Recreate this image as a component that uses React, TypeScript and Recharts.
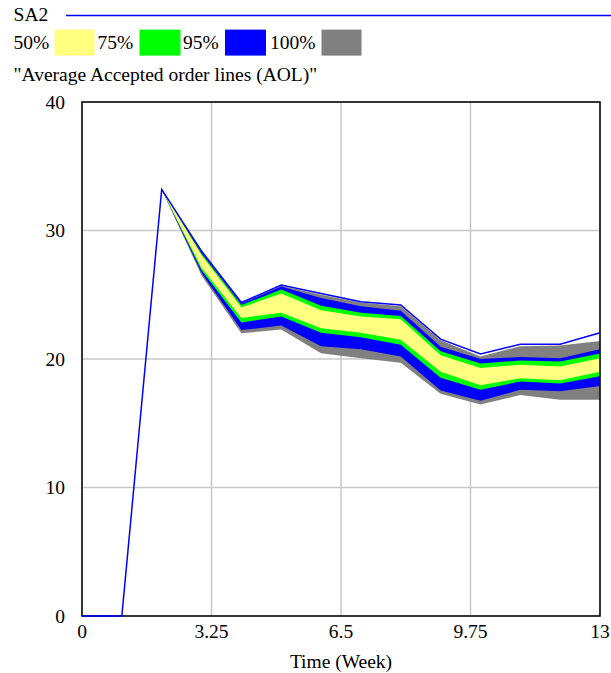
import { ComposedChart, Area, Line, XAxis, YAxis, CartesianGrid, ReferenceArea } from 'recharts'

const weeks = [0, 1, 2, 3, 4, 5, 6, 7, 8, 9, 10, 11, 12, 13]
const sa2 = [0, 0, 33.2, 28.4, 24.4, 25.75, 25.1, 24.45, 24.2, 21.55, 20.4, 21.15, 21.15, 22.05]
const grayHi = [0, 0, 33.2, 28.35, 24.35, 25.7, 25.0, 24.4, 24.1, 21.45, 20.2, 21.0, 21.05, 21.4]
const blueHi = [0, 0, 33.2, 28.3, 24.3, 25.65, 24.75, 24.1, 23.75, 20.95, 20.0, 20.15, 20.05, 20.75]
const greenHi = [0, 0, 33.2, 28.2, 24.2, 25.4, 24.15, 23.6, 23.35, 20.6, 19.65, 19.88, 19.8, 20.42]
const yellowHi = [0, 0, 33.2, 28.1, 24.0, 25.1, 23.8, 23.3, 23.1, 20.3, 19.3, 19.55, 19.42, 20.05]
const yellowLo = [0, 0, 33.2, 27.1, 23.2, 23.6, 22.4, 22.05, 21.5, 19.0, 17.95, 18.5, 18.35, 19.0]
const greenLo = [0, 0, 33.2, 26.9, 22.85, 23.3, 22.05, 21.7, 21.1, 18.55, 17.6, 18.25, 18.1, 18.65]
const blueLo = [0, 0, 33.2, 26.7, 22.25, 22.6, 21.0, 20.75, 20.2, 17.55, 16.75, 17.6, 17.5, 17.9]
const grayLo = [0, 0, 33.2, 26.5, 22.0, 22.3, 20.45, 20.05, 19.7, 17.3, 16.45, 17.2, 16.82, 16.82]

const xTicks = [0, 3.25, 6.5, 9.75, 13]
const yTicks = [0, 10, 20, 30, 40]

const legendItems = [
  { label: '50%', color: '#ffff80' },
  { label: '75%', color: '#00ff00' },
  { label: '95%', color: '#0000ff' },
  { label: '100%', color: '#808080' },
]

const data = weeks.map((t, i) => ({
  t,
  sa2: sa2[i],
  gray: [grayLo[i], grayHi[i]],
  blue: [blueLo[i], blueHi[i]],
  green: [greenLo[i], greenHi[i]],
  yellow: [yellowLo[i], yellowHi[i]],
}))

const font = 'Liberation Serif, Times New Roman, serif'
const tickStyle = { fill: '#000', fontSize: 19.5, fontFamily: font }

// legend swatch layout
const textX = [13.6, 97.4, 183, 270]
const boxX = [54.6, 139.5, 225, 321.5]
const boxW = [40, 41, 41, 40]

function Legend() {
  return (
    <svg width={611} height={95} style={{ position: 'absolute', left: 0, top: 0 }}>
      <g fontSize={19.5} fill="#000" fontFamily={font}>
        <text x={13.6} y={21}>SA2</text>
        <line x1={66} x2={611} y1={15.5} y2={15.5} stroke="#0000ff" strokeWidth={1.5} />
        {legendItems.map((it, i) => (
          <g key={it.label}>
            <text x={textX[i]} y={49}>{it.label}</text>
            <rect x={boxX[i]} y={29.6} width={boxW[i]} height={26} fill={it.color} />
          </g>
        ))}
        <text x={13.6} y={81}>"Average Accepted order lines (AOL)"</text>
      </g>
    </svg>
  )
}

export default function App() {
  return (
    <div style={{ position: 'absolute', left: 0, top: 0, width: 611, height: 673, background: '#fff' }}>
      <ComposedChart width={611} height={673} data={data} margin={{ top: 102, right: 11, bottom: 0, left: 0 }}>
        <CartesianGrid stroke="#c8c8c8" strokeWidth={1.5} />
        <XAxis
          dataKey="t"
          type="number"
          domain={[0, 13]}
          ticks={xTicks}
          axisLine={false}
          tickLine={false}
          height={57}
          tick={tickStyle}
          label={{ value: 'Time (Week)', position: 'insideBottom', offset: 5, style: tickStyle }}
        />
        <YAxis
          type="number"
          domain={[0, 40]}
          ticks={yTicks}
          axisLine={false}
          tickLine={false}
          width={82}
          tickMargin={11}
          tick={tickStyle}
        />
        <Area type="linear" dataKey="gray" stroke="none" fill="#808080" fillOpacity={1} isAnimationActive={false} />
        <Area type="linear" dataKey="blue" stroke="none" fill="#0000ff" fillOpacity={1} isAnimationActive={false} />
        <Area type="linear" dataKey="green" stroke="none" fill="#00ff00" fillOpacity={1} isAnimationActive={false} />
        <Area type="linear" dataKey="yellow" stroke="none" fill="#ffff80" fillOpacity={1} isAnimationActive={false} />
        <ReferenceArea x1={0} x2={13} y1={0} y2={40} fill="none" stroke="#000" strokeWidth={1.5} ifOverflow="visible" />
        <Line type="linear" dataKey="sa2" stroke="#0000ff" strokeWidth={1.5} dot={false} isAnimationActive={false} />
      </ComposedChart>
      <Legend />
    </div>
  )
}
